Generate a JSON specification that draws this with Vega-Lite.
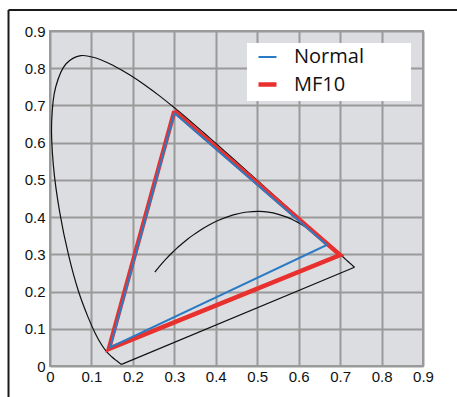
{
  "$schema": "https://vega.github.io/schema/vega-lite/v6.json",
  "width": 373,
  "height": 335,
  "autosize": {"type": "none"},
  "padding": {"left": 50, "top": 31, "right": 34, "bottom": 31},
  "background": "#ffffff",
  "config": {
    "view": {"fill": "#dcdde0", "stroke": "#9a9a9a", "strokeWidth": 2},
    "axis": {"labelOverlap": false, "labelSeparation": -100},
    "axisY": {"labelOverlap": false, "labelSeparation": -100},
    "axisQuantitative": {"labelOverlap": false, "labelSeparation": -100}
  },
  "datasets": {
    "locus": [
      {"i": 0, "x": 0.1741, "y": 0.0050},
      {"i": 1, "x": 0.1738, "y": 0.0049},
      {"i": 2, "x": 0.1733, "y": 0.0048},
      {"i": 3, "x": 0.1726, "y": 0.0048},
      {"i": 4, "x": 0.1714, "y": 0.0051},
      {"i": 5, "x": 0.1703, "y": 0.0058},
      {"i": 6, "x": 0.1689, "y": 0.0069},
      {"i": 7, "x": 0.1669, "y": 0.0086},
      {"i": 8, "x": 0.1644, "y": 0.0109},
      {"i": 9, "x": 0.1611, "y": 0.0138},
      {"i": 10, "x": 0.1566, "y": 0.0177},
      {"i": 11, "x": 0.1510, "y": 0.0227},
      {"i": 12, "x": 0.1440, "y": 0.0297},
      {"i": 13, "x": 0.1355, "y": 0.0399},
      {"i": 14, "x": 0.1241, "y": 0.0578},
      {"i": 15, "x": 0.1096, "y": 0.0868},
      {"i": 16, "x": 0.0913, "y": 0.1327},
      {"i": 17, "x": 0.0687, "y": 0.2007},
      {"i": 18, "x": 0.0454, "y": 0.2950},
      {"i": 19, "x": 0.0235, "y": 0.4127},
      {"i": 20, "x": 0.0082, "y": 0.5384},
      {"i": 21, "x": 0.0039, "y": 0.6548},
      {"i": 22, "x": 0.0139, "y": 0.7502},
      {"i": 23, "x": 0.0389, "y": 0.8120},
      {"i": 24, "x": 0.0743, "y": 0.8338},
      {"i": 25, "x": 0.1142, "y": 0.8262},
      {"i": 26, "x": 0.1547, "y": 0.8059},
      {"i": 27, "x": 0.1929, "y": 0.7816},
      {"i": 28, "x": 0.2296, "y": 0.7543},
      {"i": 29, "x": 0.2658, "y": 0.7243},
      {"i": 30, "x": 0.3016, "y": 0.6923},
      {"i": 31, "x": 0.3373, "y": 0.6589},
      {"i": 32, "x": 0.3731, "y": 0.6245},
      {"i": 33, "x": 0.4087, "y": 0.5896},
      {"i": 34, "x": 0.4441, "y": 0.5547},
      {"i": 35, "x": 0.4788, "y": 0.5202},
      {"i": 36, "x": 0.5125, "y": 0.4866},
      {"i": 37, "x": 0.5448, "y": 0.4544},
      {"i": 38, "x": 0.5752, "y": 0.4242},
      {"i": 39, "x": 0.6029, "y": 0.3965},
      {"i": 40, "x": 0.6270, "y": 0.3725},
      {"i": 41, "x": 0.6482, "y": 0.3514},
      {"i": 42, "x": 0.6658, "y": 0.3340},
      {"i": 43, "x": 0.6801, "y": 0.3197},
      {"i": 44, "x": 0.6915, "y": 0.3083},
      {"i": 45, "x": 0.7006, "y": 0.2993},
      {"i": 46, "x": 0.7079, "y": 0.2920},
      {"i": 47, "x": 0.7140, "y": 0.2859},
      {"i": 48, "x": 0.7190, "y": 0.2809},
      {"i": 49, "x": 0.7230, "y": 0.2770},
      {"i": 50, "x": 0.7260, "y": 0.2740},
      {"i": 51, "x": 0.7300, "y": 0.2700},
      {"i": 52, "x": 0.7320, "y": 0.2680},
      {"i": 53, "x": 0.7334, "y": 0.2666},
      {"i": 54, "x": 0.7347, "y": 0.2653}
    ],
    "purple": [
      {"i": 0, "x": 0.7347, "y": 0.2653},
      {"i": 1, "x": 0.1741, "y": 0.0050}
    ],
    "planck": [
      {"i": 0, "x": 0.2530, "y": 0.2520},
      {"i": 1, "x": 0.2637, "y": 0.2671},
      {"i": 2, "x": 0.2807, "y": 0.2884},
      {"i": 3, "x": 0.2952, "y": 0.3048},
      {"i": 4, "x": 0.3064, "y": 0.3166},
      {"i": 5, "x": 0.3135, "y": 0.3236},
      {"i": 6, "x": 0.3221, "y": 0.3318},
      {"i": 7, "x": 0.3325, "y": 0.3411},
      {"i": 8, "x": 0.3451, "y": 0.3516},
      {"i": 9, "x": 0.3608, "y": 0.3636},
      {"i": 10, "x": 0.3805, "y": 0.3768},
      {"i": 11, "x": 0.4053, "y": 0.3907},
      {"i": 12, "x": 0.4369, "y": 0.4041},
      {"i": 13, "x": 0.4476, "y": 0.4074},
      {"i": 14, "x": 0.4770, "y": 0.4137},
      {"i": 15, "x": 0.5056, "y": 0.4152},
      {"i": 16, "x": 0.5267, "y": 0.4133},
      {"i": 17, "x": 0.5493, "y": 0.4082},
      {"i": 18, "x": 0.5732, "y": 0.3993},
      {"i": 19, "x": 0.5857, "y": 0.3931},
      {"i": 20, "x": 0.5985, "y": 0.3858},
      {"i": 21, "x": 0.6251, "y": 0.3674},
      {"i": 22, "x": 0.6528, "y": 0.3444}
    ],
    "gamut": [
      {"series": "MF10", "i": 0, "x": 0.300, "y": 0.685},
      {"series": "MF10", "i": 1, "x": 0.700, "y": 0.298},
      {"series": "MF10", "i": 2, "x": 0.142, "y": 0.046},
      {"series": "MF10", "i": 3, "x": 0.300, "y": 0.685},
      {"series": "Normal", "i": 0, "x": 0.300, "y": 0.680},
      {"series": "Normal", "i": 1, "x": 0.668, "y": 0.325},
      {"series": "Normal", "i": 2, "x": 0.145, "y": 0.050},
      {"series": "Normal", "i": 3, "x": 0.300, "y": 0.680}
    ],
    "one": [{"k": 1}]
  },
  "layer": [
    {
      "data": {"name": "locus"},
      "mark": {"type": "line", "color": "#111111", "strokeWidth": 1.2, "interpolate": "catmull-rom"},
      "encoding": {
        "x": {"field": "x", "type": "quantitative", "scale": {"domain": [0, 0.9], "nice": false, "zero": false},
          "axis": {"values": [0, 0.1, 0.2, 0.3, 0.4, 0.5, 0.6, 0.7, 0.8, 0.9], "format": ".1~f", "labelPadding": 3, "title": null,
            "grid": true, "gridColor": "#9a9a9a", "gridWidth": 2, "gridOpacity": 1, "domain": false, "ticks": false,
            "labelFont": "Liberation Sans", "labelFontSize": 15, "labelColor": "#111111", "labelOverlap": false, "labelSeparation": -100, "labelFlush": false}},
        "y": {"field": "y", "type": "quantitative", "scale": {"domain": [0, 0.9], "nice": false, "zero": false},
          "axis": {"values": [0, 0.1, 0.2, 0.3, 0.4, 0.5, 0.6, 0.7, 0.8, 0.9], "tickCount": 10, "format": ".1~f", "labelPadding": 5, "title": null,
            "grid": true, "gridColor": "#9a9a9a", "gridWidth": 2, "gridOpacity": 1, "domain": false, "ticks": false,
            "labelFont": "Liberation Sans", "labelFontSize": 15, "labelColor": "#111111", "labelOverlap": false, "labelSeparation": -100, "labelFlush": false}},
        "order": {"field": "i", "type": "quantitative"}
      }
    },
    {
      "data": {"name": "purple"},
      "mark": {"type": "line", "color": "#111111", "strokeWidth": 1.2},
      "encoding": {
        "x": {"field": "x", "type": "quantitative"},
        "y": {"field": "y", "type": "quantitative"},
        "order": {"field": "i", "type": "quantitative"}
      }
    },
    {
      "data": {"name": "planck"},
      "mark": {"type": "line", "color": "#111111", "strokeWidth": 1.2, "interpolate": "catmull-rom"},
      "encoding": {
        "x": {"field": "x", "type": "quantitative"},
        "y": {"field": "y", "type": "quantitative"},
        "order": {"field": "i", "type": "quantitative"}
      }
    },
    {
      "data": {"name": "one"},
      "mark": {"type": "rect", "color": "#ffffff"},
      "encoding": {
        "x": {"datum": 0.4754},
        "x2": {"datum": 0.871},
        "y": {"datum": 0.868},
        "y2": {"datum": 0.712}
      }
    },
    {
      "data": {"name": "gamut"},
      "transform": [{"filter": "datum.series == 'MF10'"}],
      "mark": {"type": "line", "strokeJoin": "miter"},
      "encoding": {
        "x": {"field": "x", "type": "quantitative"},
        "y": {"field": "y", "type": "quantitative"},
        "order": {"field": "i", "type": "quantitative"},
        "color": {"field": "series", "type": "nominal", "scale": {"domain": ["Normal", "MF10"], "range": ["#2b7bc4", "#e8312f"]},
          "legend": {"title": null, "orient": "none", "legendX": 206, "legendY": 16, "padding": 0, "symbolType": "stroke", "symbolSize": 324,
            "labelFont": "Open Sans", "labelFontSize": 20, "labelColor": "#111111", "labelOffset": 15, "rowPadding": 6, "labelLimit": 200}},
        "strokeWidth": {"field": "series", "type": "nominal", "scale": {"domain": ["Normal", "MF10"], "range": [2, 4.5]},
          "legend": {"title": null, "orient": "none", "legendX": 206, "legendY": 16, "padding": 0, "symbolType": "stroke", "symbolSize": 324,
            "labelFont": "Open Sans", "labelFontSize": 20, "labelColor": "#111111", "labelOffset": 15, "rowPadding": 6, "labelLimit": 200}}
      }
    },
    {
      "data": {"name": "gamut"},
      "transform": [{"filter": "datum.series == 'Normal'"}],
      "mark": {"type": "line", "strokeJoin": "miter"},
      "encoding": {
        "x": {"field": "x", "type": "quantitative"},
        "y": {"field": "y", "type": "quantitative"},
        "order": {"field": "i", "type": "quantitative"},
        "color": {"field": "series", "type": "nominal"},
        "strokeWidth": {"field": "series", "type": "nominal"}
      }
    },
    {
      "data": {"name": "one"},
      "mark": {"type": "rule", "color": "#1a1a1a", "strokeWidth": 2},
      "encoding": {
        "x": {"datum": -0.1001},
        "x2": {"datum": 1.2},
        "y": {"datum": 0.9564}
      }
    },
    {
      "data": {"name": "one"},
      "mark": {"type": "rule", "color": "#1a1a1a", "strokeWidth": 2},
      "encoding": {
        "x": {"datum": -0.1001},
        "y": {"datum": 0.9564},
        "y2": {"datum": -0.2}
      }
    }
  ]
}
